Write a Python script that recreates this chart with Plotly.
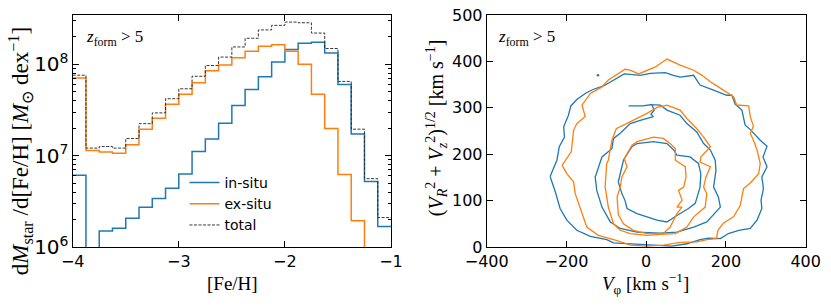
import numpy as np
import plotly.graph_objects as go

# ---------------- data: left panel (metallicity distribution) ----------------
feh_edges = np.linspace(-4.0, -1.0, 25)  # 24 bins of 0.125 dex
insitu = [6.1e6, 0, 1.5e6, 1.6e6, 2.06e6, 2.72e6, 3.4e6, 4.4e6, 6.3e6, 1.11e7,
          1.52e7, 2.26e7, 3.55e7, 5.3e7, 7.3e7, 1.06e8, 1.45e8, 1.7e8, 1.74e8,
          1.33e8, 6.0e7, 1.73e7, 5.2e6, 1.68e6]
exsitu = [7.1e7, 1.14e7, 1.1e7, 1.06e7, 1.32e7, 1.94e7, 2.56e7, 3.65e7, 4.7e7,
          6.3e7, 8.5e7, 9.8e7, 1.18e8, 1.39e8, 1.58e8, 1.64e8, 1.39e8, 1.0e8,
          4.7e7, 1.98e7, 6.2e6, 1.94e6, 0, 0]
total = [7.6e7, 1.21e7, 1.26e7, 1.21e7, 1.54e7, 2.24e7, 2.94e7, 4.2e7, 5.4e7,
         7.4e7, 9.7e7, 1.2e8, 1.55e8, 1.93e8, 2.38e8, 2.67e8, 2.9e8, 2.85e8,
         2.2e8, 1.49e8, 6.5e7, 1.95e7, 5.6e6, 2.1e6]

# ---------------- data: right panel (contours, km/s) ----------------
blue_outer_v = [-241, -224, -218, -205, -207, -195, -189, -174, -151, -132, -107, -82, -55, -40, -15, 10, 48, 68, 85, 119, 135, 169, 202, 215, 223, 240, 248, 261, 286, 303, 293, 303, 290, 294, 288, 290, 278, 261, 232, 206, 186, 156, 135, 102, 64, 18, -32, -82, -99, -140, -174, -199, -216, -228, -241]
blue_outer_w = [152, 187, 216, 237, 259, 284, 304, 318, 332, 340, 347, 360, 373, 372, 370, 374, 376, 370, 366, 370, 349, 338, 327, 327, 308, 295, 263, 253, 230, 217, 194, 173, 151, 126, 101, 83, 58, 40, 36, 29, 18, 19, 16, 7, 2, 4, 6, 9, 16, 23, 36, 58, 83, 119, 152]

blue_mid_v = [-44, -8, 14, 20, 12, 18, -15, -40, -65, -82, -86, -111, -125, -128, -124, -111, -90, -65, -23, 35, 77, 119, 152, 186, 181, 169, 175, 173, 161, 144, 127, 102, 85, 52, 35, 14, -8]
blue_mid_w = [304, 304, 307, 295, 286, 281, 273, 266, 245, 234, 212, 194, 158, 151, 122, 86, 54, 40, 32, 30, 32, 43, 54, 86, 108, 129, 165, 187, 209, 223, 248, 266, 284, 295, 306, 307, 304]

blue_in_v = [-36, -23, 18, 52, 69, 77, 110, 131, 137, 135, 123, 106, 77, 52, 27, 2, -23, -48, -53, -61, -70, -61, -57, -48, -36]
blue_in_w = [216, 223, 227, 223, 209, 198, 194, 180, 158, 129, 94, 83, 68, 54, 58, 65, 72, 83, 100, 115, 140, 173, 187, 200, 216]

orange_outer_v = [-211, -188, -182, -174, -153, -161, -140, -111, -95, -69, -53, -40, -19, 23, 52, 85, 119, 140, 161, 181, 202, 211, 219, 227, 257, 261, 269, 261, 269, 278, 286, 282, 261, 244, 236, 219, 194, 180, 176, 152, 127, 85, 43, 0, -40, -73, -120, -149, -161, -170, -178, -182, -199, -211]
orange_outer_w = [176, 205, 252, 266, 281, 306, 331, 345, 360, 374, 383, 381, 373, 388, 405, 392, 381, 370, 356, 345, 334, 329, 324, 306, 304, 281, 260, 245, 230, 209, 180, 158, 138, 126, 90, 65, 52, 36, 18, 16, 11, 10, 4, 2, 4, 14, 25, 43, 72, 94, 115, 140, 158, 176]

orange_mid_v = [52, 85, 102, 127, 144, 161, 137, 135, 161, 150, 144, 152, 148, 119, 102, 73, 35, 2, -40, -65, -82, -95, -103, -99, -95, -86, -75, -57, -23, 2, 27, 52]
orange_mid_w = [306, 295, 277, 255, 237, 216, 194, 183, 173, 151, 129, 115, 86, 65, 43, 29, 27, 25, 29, 36, 50, 86, 130, 180, 187, 230, 255, 263, 277, 288, 301, 306]

orange_in_v = [18, 43, 60, 73, 73, 98, 100, 94, 81, 90, 77, 90, 77, 60, 43, 2, -32, -57, -70, -73, -65, -61, -48, -55, -36, -23, 18]
orange_in_w = [237, 234, 223, 212, 187, 173, 151, 129, 122, 101, 86, 86, 72, 43, 29, 29, 36, 50, 70, 108, 129, 151, 173, 190, 219, 227, 237]

dot_v = [-121]
dot_w = [370]

BLUE = "#1f77b4"
ORANGE = "#ff7f0e"
FLOOR = 1e4  # empty bins drawn below the axis range


def step_xy(edges, vals):
    ys = [v if v > 0 else FLOOR for v in vals]
    return list(edges), ys + [ys[-1]]


fig = go.Figure()

for vals, name, color, dash, width in [
    (insitu, "in-situ", BLUE, "solid", 1.5),
    (exsitu, "ex-situ", ORANGE, "solid", 1.5),
    (total, "total", "#222222", "3px,1.5px", 0.9),
]:
    xs, ys = step_xy(feh_edges, vals)
    fig.add_trace(go.Scatter(x=xs, y=ys, mode="lines", name=name,
                             line=dict(color=color, width=width, dash=dash, shape="hv"),
                             xaxis="x", yaxis="y"))

for vx, wy, color in [
    (blue_outer_v, blue_outer_w, BLUE), (blue_mid_v, blue_mid_w, BLUE), (blue_in_v, blue_in_w, BLUE),
    (orange_outer_v, orange_outer_w, ORANGE), (orange_mid_v, orange_mid_w, ORANGE), (orange_in_v, orange_in_w, ORANGE),
]:
    fig.add_trace(go.Scatter(x=vx, y=wy, mode="lines", showlegend=False,
                             line=dict(color=color, width=1.3), xaxis="x2", yaxis="y2"))
fig.add_trace(go.Scatter(x=dot_v, y=dot_w, mode="markers", showlegend=False,
                         marker=dict(color=BLUE, size=2.5), xaxis="x2", yaxis="y2"))

W, H = 831, 308
tickfont = dict(family="DejaVu Sans", size=16, color="black")
axcommon = dict(showline=True, linecolor="black", linewidth=1, mirror="allticks",
                ticks="inside", ticklen=6, tickcolor="black", showgrid=False,
                zeroline=False, tickfont=tickfont, automargin=False)

fig.update_layout(
    width=W, height=H,
    margin=dict(l=0, r=0, t=15, b=61, autoexpand=False),
    plot_bgcolor="white", paper_bgcolor="white",
    xaxis=dict(domain=[72.7 / W, 391 / W], range=[-4, -1], dtick=1, anchor="y", **axcommon),
    yaxis=dict(domain=[0, 1], type="log", range=[6, 8.54], dtick=1, exponentformat="power",
               anchor="x",
               minor=dict(ticks="inside", ticklen=3, tickcolor="black", showgrid=False),
               **axcommon),
    xaxis2=dict(domain=[486.7 / W, 805.7 / W], range=[-400, 400], dtick=200, anchor="y2", **axcommon),
    yaxis2=dict(domain=[0, 1], range=[0, 500], dtick=100, anchor="x2", **axcommon),
    legend=dict(x=0.222, y=0.345, xanchor="left", yanchor="top",
                bgcolor="rgba(0,0,0,0)", font=dict(family="DejaVu Sans", size=14, color="black"),
                tracegroupgap=0),
)

serif = "Liberation Serif"
anns = [
    dict(text="<i>z</i><sub>form</sub> > 5", x=84 / W, y=(246.7 - 38) / 231.7, xanchor="left", yanchor="middle"),
    dict(text="<i>z</i><sub>form</sub> > 5", x=496 / W, y=(246.7 - 38) / 231.7, xanchor="left", yanchor="middle"),
    dict(text="[Fe/H]", x=232 / W, y=(246.7 - 283) / 231.7, xanchor="center", yanchor="middle", size=19),
    dict(text="<i>V</i><sub>φ</sub> [km s<sup>−1</sup>]", x=645 / W, y=(246.7 - 283) / 231.7,
         xanchor="center", yanchor="middle", size=19),
    dict(text="d<i>M</i><sub>star</sub> /d[Fe/H] [<i>M</i><sub>⊙</sub> dex<sup>−1</sup>]",
         x=20 / W, y=(246.7 - 151) / 231.7, xanchor="center", yanchor="middle", textangle=-90, size=23),
    dict(text="(<i>V</i><sub><i>R</i></sub><sup>2</sup> + <i>V</i><sub><i>z</i></sub><sup>2</sup>)<sup>1/2</sup> [km s<sup>−1</sup>]",
         x=437 / W, y=(246.7 - 127) / 231.7, xanchor="center", yanchor="middle", textangle=-90, size=20),
]
for a in anns:
    size = a.pop("size", 17)
    fig.add_annotation(xref="paper", yref="paper", showarrow=False,
                       font=dict(family=serif, size=size, color="black"), **a)

fig.write_html("out.html", config={"displayModeBar": False},
               post_script="document.body.style.margin='0';document.body.style.padding='0';")
